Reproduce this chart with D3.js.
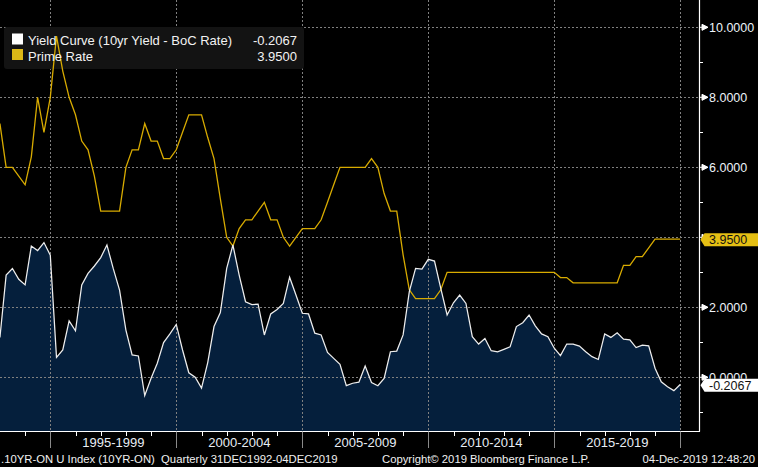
<!DOCTYPE html>
<html>
<head>
<meta charset="utf-8">
<script src="https://cdn.jsdelivr.net/npm/d3@7"></script>
<style>
html,body{margin:0;padding:0;background:#000;}
svg{display:block;}
text{font-family:"Liberation Sans",Arial,sans-serif;}
</style>
</head>
<body>
<svg id="chart" width="758" height="467"></svg>
<script>
// ---- data (quarterly, 31DEC1992 - 04DEC2019) ----
const yieldCurve = [
  1.14, 2.92, 3.11, 2.80, 2.64, 3.75, 3.62, 3.85, 3.49, 0.57,
  0.78, 1.61, 1.33, 2.64, 2.97, 3.18, 3.42, 3.78, 3.11, 2.49,
  1.35, 0.64, 0.61, -0.52, -0.03, 0.40, 0.99, 1.24, 1.51, 0.78,
  0.13, 0.00, -0.31, 0.42, 1.45, 1.85, 3.11, 3.78, 2.92, 2.16,
  2.08, 2.09, 1.21, 1.81, 1.94, 2.11, 2.86, 2.35, 1.83, 1.81,
  1.26, 1.21, 0.71, 0.54, 0.37, -0.24, -0.17, -0.14, 0.32, -0.15,
  -0.24, -0.03, 0.73, 0.75, 1.21, 2.45, 3.11, 3.09, 3.37, 3.32,
  2.54, 1.78, 2.13, 2.35, 2.11, 1.16, 0.95, 1.11, 0.76, 0.73,
  0.80, 0.87, 1.45, 1.56, 1.78, 1.47, 1.24, 1.16, 0.83, 0.62,
  0.95, 0.95, 0.89, 0.73, 0.59, 0.51, 1.24, 1.14, 1.27, 1.09,
  1.07, 0.85, 0.92, 0.90, 0.26, -0.13, -0.27, -0.38, -0.2067
];
const primeRate = [
  7.25, 6.00, 6.00, 5.75, 5.50, 6.30, 8.00, 7.00, 8.00, 9.75,
  8.75, 8.00, 7.50, 6.75, 6.50, 5.75, 4.75, 4.75, 4.75, 4.75,
  6.00, 6.50, 6.50, 7.25, 6.75, 6.75, 6.25, 6.25, 6.50, 7.00,
  7.50, 7.50, 7.50, 6.85, 6.25, 5.10, 4.00, 3.75, 4.25, 4.50,
  4.50, 4.75, 5.00, 4.50, 4.50, 4.00, 3.75, 4.00, 4.25, 4.25,
  4.25, 4.50, 5.00, 5.50, 6.00, 6.00, 6.00, 6.00, 6.00, 6.25,
  6.00, 5.25, 4.75, 4.75, 3.50, 2.50, 2.25, 2.25, 2.25, 2.25,
  2.50, 3.00, 3.00, 3.00, 3.00, 3.00, 3.00, 3.00, 3.00, 3.00,
  3.00, 3.00, 3.00, 3.00, 3.00, 3.00, 3.00, 3.00, 3.00, 2.85,
  2.85, 2.70, 2.70, 2.70, 2.70, 2.70, 2.70, 2.70, 2.70, 3.20,
  3.20, 3.45, 3.45, 3.70, 3.95, 3.95, 3.95, 3.95, 3.95
];
const seriesNames = ["Yield Curve (10yr Yield - BoC Rate)", "Prime Rate"];
const lastValues = ["-0.2067", "3.9500"];
const yTickValues = [0, 2, 4, 6, 8, 10];
// 4.0000 is fully hidden behind the Prime Rate tag in the reference
const yTickLabels = ["0.0000", "2.0000", "", "6.0000", "8.0000", "10.0000"];
const yMinorValues = [-1, 1, 3, 5, 7, 9];
const periodLabels = ["1995-1999", "2000-2004", "2005-2009", "2010-2014", "2015-2019"];
const periodStarts = [1995, 2000, 2005, 2010, 2015, 2020];
const footerLeft = ".10YR-ON U Index (10YR-ON)  Quarterly 31DEC1992-04DEC2019";
const footerMid = "Copyright\u00A9 2019 Bloomberg Finance L.P.";
const footerRight = "04-Dec-2019 12:48:20";

// quarter-end dates
const dates = yieldCurve.map((_, i) => new Date(1993, 3 * i, 0));

// ---- layout ----
const svg = d3.select("#chart");
const W = 758, H = 467;
const plotR = 699, plotB = 431.5;
svg.append("rect").attr("width", W).attr("height", H).attr("fill", "#000");

const x = d3.scaleTime()
  .domain([new Date(1993, 0, 1), new Date(2020, 0, 1)])
  .range([0, 680.3]);
const y = d3.scaleLinear().domain([0, 10]).range([377.3, 27.3]);

// area fill
const area = d3.area()
  .x((d, i) => x(dates[i]))
  .y0(plotB)
  .y1(d => y(d));
svg.append("path").datum(yieldCurve)
  .attr("d", area).attr("fill", "#051f3c");

// gridlines
const grid = svg.append("g").attr("stroke", "#808080").attr("stroke-width", 1)
  .attr("stroke-dasharray", "2,2").attr("fill", "none");
yTickValues.forEach(v => {
  grid.append("line").attr("x1", 0).attr("x2", plotR)
    .attr("y1", Math.round(y(v)) + 0.5).attr("y2", Math.round(y(v)) + 0.5);
});
periodStarts.forEach(yr => {
  const xx = Math.round(x(new Date(yr, 0, 1))) + 0.5;
  grid.append("line").attr("x1", xx).attr("x2", xx).attr("y1", 0).attr("y2", plotB);
});

// legend box
svg.append("rect").attr("x", 4).attr("y", 27).attr("width", 300).attr("height", 42)
  .attr("rx", 3).attr("fill", "#131313");

// lines
const line = d3.line().x((d, i) => x(dates[i])).y(d => y(d));
svg.append("path").datum(primeRate).attr("d", line)
  .attr("fill", "none").attr("stroke", "#d8ab00").attr("stroke-width", 1.3);
svg.append("path").datum(yieldCurve).attr("d", line)
  .attr("fill", "none").attr("stroke", "#eeeeee").attr("stroke-width", 1.25);

// legend content
const legColors = ["#ffffff", "#dcb917"];
seriesNames.forEach((n, k) => {
  const by = 45 + k * 15.5;
  svg.append("rect").attr("x", 12).attr("y", by - 11.5).attr("width", 11).attr("height", 11)
    .attr("fill", legColors[k]);
  svg.append("text").attr("x", 28).attr("y", by).attr("font-size", 13)
    .attr("fill", "#f2f2f2").text(n);
  svg.append("text").attr("x", 297).attr("y", by).attr("font-size", 13)
    .attr("text-anchor", "end").attr("fill", "#f2f2f2").text(lastValues[k]);
});

// axis border lines
svg.append("line").attr("x1", plotR + 0.5).attr("x2", plotR + 0.5).attr("y1", 0).attr("y2", plotB)
  .attr("stroke", "#fff").attr("stroke-width", 1.2);
svg.append("line").attr("x1", 0).attr("x2", plotR + 1).attr("y1", plotB).attr("y2", plotB)
  .attr("stroke", "#fff").attr("stroke-width", 1.2);

// clip for the partly hidden 0.0000 label (only its top shows above the tag)
const yTagYC = y(yieldCurve[yieldCurve.length - 1]) + 0.8;
svg.append("defs").append("clipPath").attr("id", "zeroClip")
  .append("rect").attr("x", plotR).attr("y", 0).attr("width", W - plotR).attr("height", yTagYC - 6.5);

// right axis ticks & labels
yMinorValues.forEach(v => {
  const yy = Math.round(y(v)) + 0.5;
  svg.append("line").attr("x1", plotR).attr("x2", plotR + 4).attr("y1", yy).attr("y2", yy)
    .attr("stroke", "#fff");
});
yTickValues.forEach((v, k) => {
  const yy = y(v);
  svg.append("path")
    .attr("d", `M${plotR},${yy}H${plotR + 3}M${plotR + 3},${yy - 3}L${plotR + 9},${yy}L${plotR + 3},${yy + 3}Z`)
    .attr("stroke", "#fff").attr("stroke-width", 1).attr("fill", "#fff");
  if (yTickLabels[k]) {
    const t = svg.append("text").attr("x", 709).attr("y", yy + 4.6).attr("font-size", 12.5)
      .attr("fill", "#eef4fa").text(yTickLabels[k]);
    if (v === 0) t.attr("clip-path", "url(#zeroClip)");
  }
});

// last-value tags
function tag(v, fill, label) {
  const yc = y(v) + 0.8;
  svg.append("path")
    .attr("d", `M${plotR + 1.5},${yc}L${plotR + 5.5},${yc - 6.5}H${W}V${yc + 6.5}H${plotR + 5.5}Z`)
    .attr("fill", fill);
  svg.append("text").attr("x", 709).attr("y", yc + 4.5).attr("font-size", 12.5)
    .attr("fill", "#111").text(label);
}
tag(primeRate[primeRate.length - 1], "#e5bf14", lastValues[1]);
tag(yieldCurve[yieldCurve.length - 1], "#ffffff", lastValues[0]);

// bottom axis
for (let yr = 1994; yr <= 2020; yr++) {
  const xx = Math.round(x(new Date(yr, 0, 1))) + 0.5;
  if (yr % 5 === 0) {
    svg.append("line").attr("x1", xx).attr("x2", xx).attr("y1", plotB).attr("y2", 448)
      .attr("stroke", "#8a8a8a");
  } else {
    svg.append("line").attr("x1", xx).attr("x2", xx).attr("y1", plotB).attr("y2", 436)
      .attr("stroke", "#fff");
  }
}
periodLabels.forEach((lab, k) => {
  const cx = (x(new Date(periodStarts[k], 0, 1)) + x(new Date(periodStarts[k + 1], 0, 1))) / 2;
  svg.append("text").attr("x", cx).attr("y", 446.5).attr("font-size", 13)
    .attr("text-anchor", "middle").attr("fill", "#e8eef5").text(lab);
});

// footer
svg.append("text").attr("x", 1).attr("y", 463).attr("font-size", 11.3)
  .attr("fill", "#f0f0f0").attr("xml:space", "preserve").style("white-space", "pre").text(footerLeft);
svg.append("text").attr("x", 382).attr("y", 463).attr("font-size", 11.3)
  .attr("fill", "#f0f0f0").text(footerMid);
svg.append("text").attr("x", 755).attr("y", 463).attr("font-size", 11.3)
  .attr("text-anchor", "end").attr("fill", "#f0f0f0").text(footerRight);
</script>
</body>
</html>
